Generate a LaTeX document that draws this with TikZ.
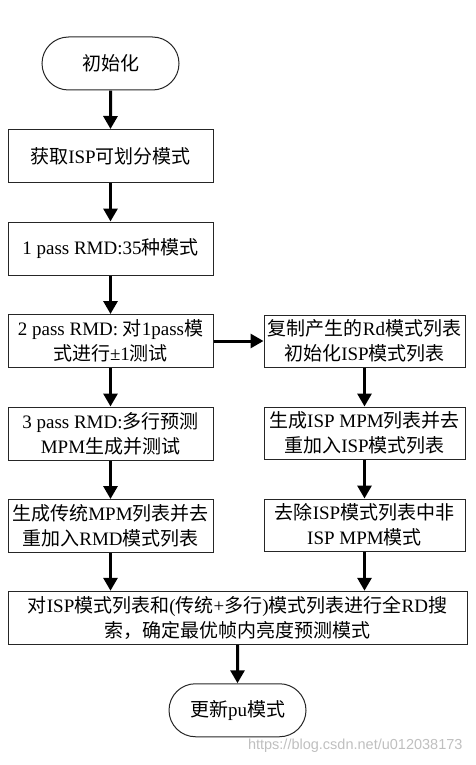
\documentclass[tikz,border=0pt]{standalone}
\usepackage{fontspec}
\setmainfont{Liberation Serif}
\newfontfamily\cjk{Noto Sans CJK SC}
\newfontfamily\wmfont{Liberation Sans}
\newcommand{\zh}[1]{{\cjk #1}}
\usetikzlibrary{positioning,calc,arrows.meta,shapes.misc}

\begin{document}
\begin{tikzpicture}[x=1pt,y=1pt,
  font=\fontsize{19}{25}\selectfont,
  node distance=38.5pt and 50pt,
  term/.style={draw=black!85, line width=1pt, rounded rectangle,
    minimum width=137pt, minimum height=53pt, inner sep=0pt},
  proc/.style={draw=black!85, line width=1pt, rectangle, align=center,
    minimum width=205pt, minimum height=53pt, inner sep=0pt},
  procr/.style={proc, minimum width=201pt, minimum height=52pt},
  arr/.style={-{Triangle[width=14pt,length=13pt]}, line width=3pt}]
  \useasboundingbox (0,0) rectangle (475,-765);
  % left column
  \node[term] (start) at (110.5,-63.5) {\zh{初始化}};
  \node[proc, below=of start] (getisp) {\zh{获取}ISP\zh{可划分模式}};
  \node[proc, below=of getisp] (pass1) {1 pass RMD:35\zh{种模式}};
  \node[proc, below=of pass1] (pass2) {2 pass RMD: \zh{对}1pass\zh{模}\\\zh{式进行}±1\zh{测试}};
  \node[proc, below=of pass2] (pass3) {3 pass RMD:\zh{多行预测}\\MPM\zh{生成并测试}};
  \node[proc, below=of pass3] (mpm) {\zh{生成传统}MPM\zh{列表并去}\\\zh{重加入}RMD\zh{模式列表}};
  % right column
  \node[procr, right=of pass2] (copy) {\zh{复制产生的}Rd\zh{模式列表}\\\zh{初始化}ISP\zh{模式列表}};
  \node[procr, below=39pt of copy] (ispmpm) {\zh{生成}ISP MPM\zh{列表并去}\\\zh{重加入}ISP\zh{模式列表}};
  \node[procr, below=39pt of ispmpm] (remove) {\zh{去除}ISP\zh{模式列表中非}\\ISP MPM\zh{模式}};
  % bottom
  \node[proc, minimum width=459pt, anchor=north] (rdsearch)
    at ($(mpm.south)!.5!(remove.south)+(0,-38.5)$)
    {\zh{对}ISP\zh{模式列表和}(\zh{传统}+\zh{多行})\zh{模式列表进行全}RD\zh{搜}\\\zh{索，确定最优帧内亮度预测模式}};
  \node[term, below=of rdsearch] (update) {\zh{更新}pu\zh{模式}};
  \node[font=\wmfont\fontsize{14.5}{16}\selectfont, text=black!25, anchor=east]
    (mark) at (466,-746) {https://blog.csdn.net/u012038173};

  \draw[arr] (start) -- (getisp);
  \draw[arr] (getisp) -- (pass1);
  \draw[arr] (pass1) -- (pass2);
  \draw[arr] (pass2) -- (pass3);
  \draw[arr] (pass3) -- (mpm);
  \draw[arr] (pass2) -- (copy);
  \draw[arr] (copy) -- (ispmpm);
  \draw[arr] (ispmpm) -- (remove);
  \draw[arr] (mpm.south) -- (mpm.south |- rdsearch.north);
  \draw[arr] (remove.south) -- (remove.south |- rdsearch.north);
  \draw[arr] (rdsearch) -- (update);
\end{tikzpicture}
\end{document}
